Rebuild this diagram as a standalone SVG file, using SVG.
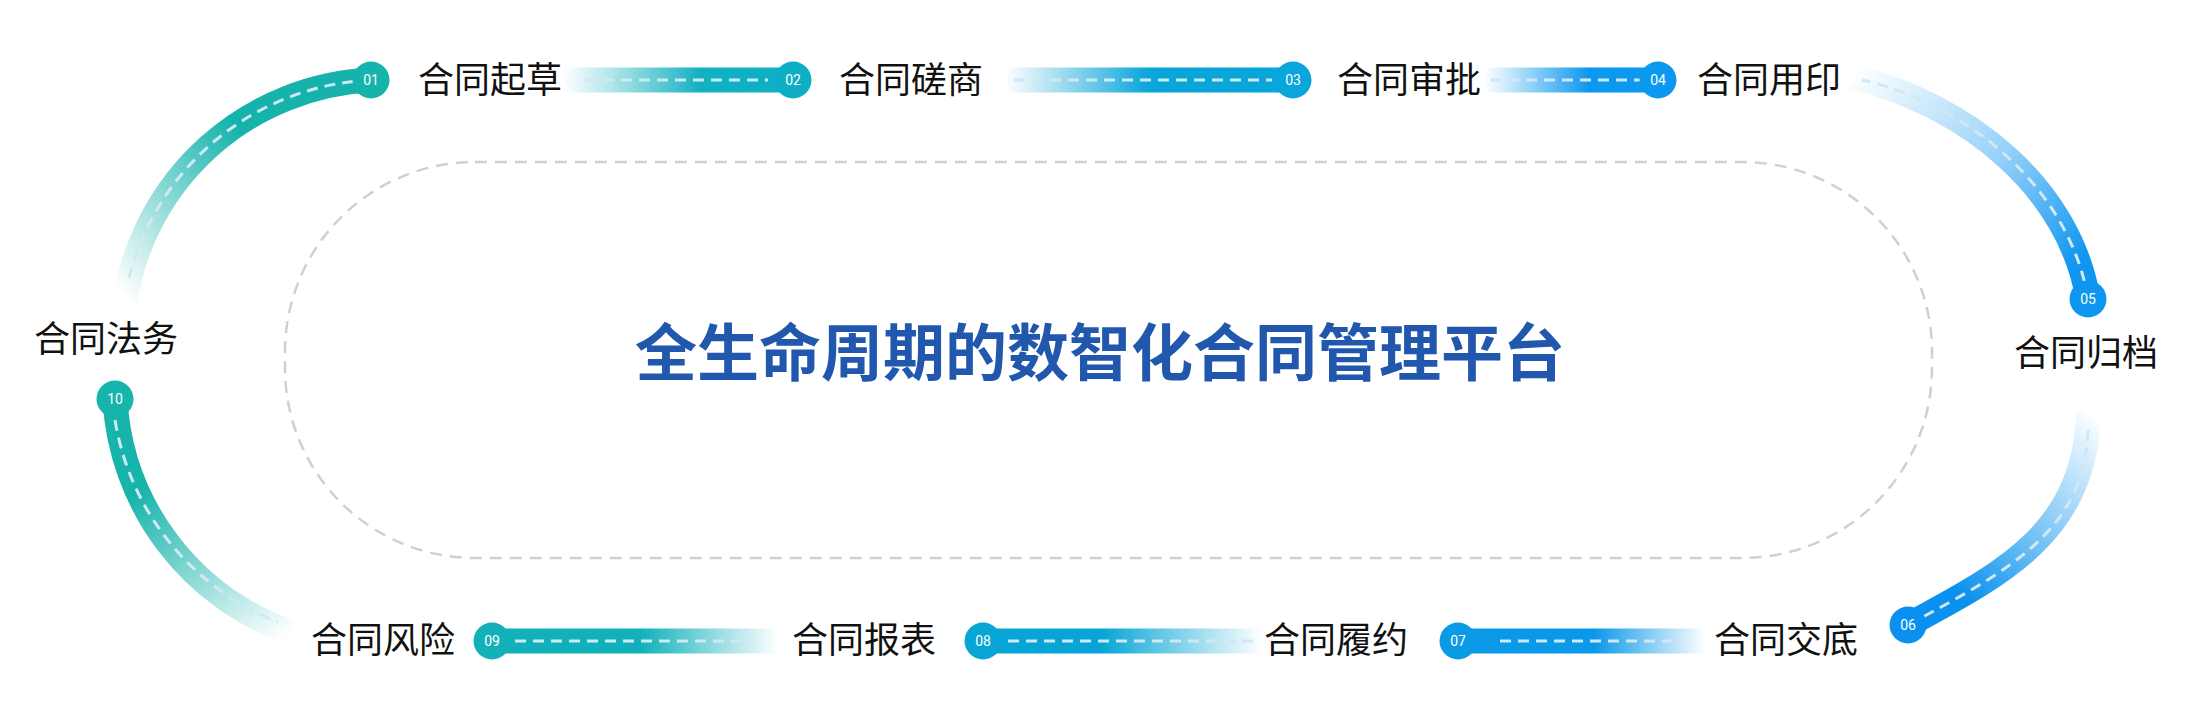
<svg xmlns="http://www.w3.org/2000/svg" width="2200" height="710" viewBox="0 0 2200 710">
<style>
.lbl{font-family:"Noto Sans CJK SC","Noto Sans",sans-serif;font-size:36px;fill:#111;text-anchor:middle}
.num{font-family:Roboto,"Liberation Sans",sans-serif;font-size:14px;fill:#fff;text-anchor:middle}
.title{font-family:"Noto Sans CJK SC","Noto Sans",sans-serif;font-size:62px;font-weight:bold;fill:#2158ae;text-anchor:middle}
.track{fill:none;stroke-width:25}
.dash{fill:none;stroke:#cfe8f3;stroke-width:3;stroke-dasharray:11 7}
.frame{fill:none;stroke:#d0d0d0;stroke-width:2.5;stroke-dasharray:12 8}
</style>
<defs>
<linearGradient id="gA" gradientUnits="userSpaceOnUse" x1="128" y1="300" x2="371" y2="80"><stop offset="0" stop-color="#16b3ad" stop-opacity="0"/><stop offset="0.6" stop-color="#16b3ad" stop-opacity="1"/><stop offset="1" stop-color="#16b3ad"/></linearGradient>
<linearGradient id="gB" gradientUnits="userSpaceOnUse" x1="562" y1="0" x2="793" y2="0"><stop offset="0" stop-color="#2ab9c0" stop-opacity="0"/><stop offset="0.6" stop-color="#12b1c2" stop-opacity="1"/><stop offset="1" stop-color="#0eaec4"/></linearGradient>
<linearGradient id="gC" gradientUnits="userSpaceOnUse" x1="1005" y1="0" x2="1293" y2="0"><stop offset="0" stop-color="#08a6da" stop-opacity="0"/><stop offset="0.5" stop-color="#08a6da" stop-opacity="1"/><stop offset="1" stop-color="#08a6da"/></linearGradient>
<linearGradient id="gD" gradientUnits="userSpaceOnUse" x1="1485" y1="0" x2="1658" y2="0"><stop offset="0" stop-color="#0b98ef" stop-opacity="0"/><stop offset="0.6" stop-color="#0b98ef" stop-opacity="1"/><stop offset="1" stop-color="#0b98ef"/></linearGradient>
<linearGradient id="gE" gradientUnits="userSpaceOnUse" x1="1850" y1="76" x2="2088" y2="299"><stop offset="0" stop-color="#1a9bf0" stop-opacity="0"/><stop offset="0.5" stop-color="#1a9bf0" stop-opacity="0.45"/><stop offset="0.9" stop-color="#1096f0" stop-opacity="1"/></linearGradient>
<linearGradient id="gF" gradientUnits="userSpaceOnUse" x1="2089" y1="410" x2="1908" y2="625"><stop offset="0" stop-color="#0b93ee" stop-opacity="0"/><stop offset="0.5" stop-color="#0b93ee" stop-opacity="0.6"/><stop offset="0.8" stop-color="#0a90ee" stop-opacity="1"/></linearGradient>
<linearGradient id="gG" gradientUnits="userSpaceOnUse" x1="1458" y1="0" x2="1705" y2="0"><stop offset="0" stop-color="#0a98e8"/><stop offset="0.55" stop-color="#0a98e8" stop-opacity="1"/><stop offset="1" stop-color="#0a98e8" stop-opacity="0"/></linearGradient>
<linearGradient id="gH" gradientUnits="userSpaceOnUse" x1="983" y1="0" x2="1262" y2="0"><stop offset="0" stop-color="#06a5d5"/><stop offset="0.42" stop-color="#06a5d5" stop-opacity="1"/><stop offset="1" stop-color="#06a5d5" stop-opacity="0"/></linearGradient>
<linearGradient id="gI" gradientUnits="userSpaceOnUse" x1="492" y1="0" x2="778" y2="0"><stop offset="0" stop-color="#11b1bb"/><stop offset="0.52" stop-color="#11b1bb" stop-opacity="1"/><stop offset="1" stop-color="#11b1bb" stop-opacity="0"/></linearGradient>
<linearGradient id="gJ" gradientUnits="userSpaceOnUse" x1="115" y1="399" x2="290" y2="632"><stop offset="0" stop-color="#17b4ab"/><stop offset="0.3" stop-color="#17b4ab" stop-opacity="1"/><stop offset="1" stop-color="#17b4ab" stop-opacity="0"/></linearGradient>
</defs>
<rect width="2200" height="710" fill="#fff"/>
<rect class="frame" x="285" y="162" width="1647" height="396" rx="190" ry="190"/>
<text class="title" x="1100" y="376">全生命周期的数智化合同管理平台</text>
<g id="connectors">
<path class="track" stroke="url(#gA)" d="M125 300 A262 262 0 0 1 371 80"/>
<path class="dash" d="M371 80 A262 262 0 0 0 128 282"/>
<path class="track" stroke="url(#gB)" d="M562 80 H793"/>
<path class="dash" d="M585 80 H768"/>
<path class="track" stroke="url(#gC)" d="M1005 80 H1293"/>
<path class="dash" d="M1014 80 H1272"/>
<path class="track" stroke="url(#gD)" d="M1485 80 H1658"/>
<path class="dash" d="M1490 80 H1640"/>
<path class="track" stroke="url(#gE)" d="M2088 299 C2070 190 1970 105 1850 76"/>
<path class="dash" d="M2088 299 C2070 190 1970 105 1862 80"/>
<path class="track" stroke="url(#gF)" d="M1908 625 C2010 570 2085 530 2089 410"/>
<path class="dash" d="M1908 625 C2010 570 2085 530 2088 430"/>
<path class="track" stroke="url(#gG)" d="M1458 641 H1705"/>
<path class="dash" d="M1500 641 H1685"/>
<path class="track" stroke="url(#gH)" d="M983 641 H1262"/>
<path class="dash" d="M1008 641 H1256"/>
<path class="track" stroke="url(#gI)" d="M492 641 H778"/>
<path class="dash" d="M515 641 H752"/>
<path class="track" stroke="url(#gJ)" d="M115 399 A262 262 0 0 0 290 632"/>
<path class="dash" d="M115 420 A262 262 0 0 0 278 622"/>
</g>
<g id="n01"><circle cx="371" cy="80" r="18.5" fill="#16b3ad"/><text class="num" x="371" y="85">01</text><text class="lbl" x="490" y="93">合同起草</text></g>
<g id="n02"><circle cx="793" cy="80" r="18.5" fill="#0eaec4"/><text class="num" x="793" y="85">02</text><text class="lbl" x="911" y="93">合同磋商</text></g>
<g id="n03"><circle cx="1293" cy="80" r="18.5" fill="#08a6da"/><text class="num" x="1293" y="85">03</text><text class="lbl" x="1409" y="93">合同审批</text></g>
<g id="n04"><circle cx="1658" cy="80" r="18.5" fill="#0b98ef"/><text class="num" x="1658" y="85">04</text><text class="lbl" x="1769" y="93">合同用印</text></g>
<g id="n05"><circle cx="2088" cy="299" r="18.5" fill="#0c96f0"/><text class="num" x="2088" y="304">05</text><text class="lbl" x="2086" y="366">合同归档</text></g>
<g id="n06"><circle cx="1908" cy="625" r="18.5" fill="#0a90ee"/><text class="num" x="1908" y="630">06</text><text class="lbl" x="1786" y="653">合同交底</text></g>
<g id="n07"><circle cx="1458" cy="641" r="18.5" fill="#0b9ae6"/><text class="num" x="1458" y="646">07</text><text class="lbl" x="1336" y="653">合同履约</text></g>
<g id="n08"><circle cx="983" cy="641" r="18.5" fill="#07a5d4"/><text class="num" x="983" y="646">08</text><text class="lbl" x="864" y="653">合同报表</text></g>
<g id="n09"><circle cx="492" cy="641" r="18.5" fill="#12b1b9"/><text class="num" x="492" y="646">09</text><text class="lbl" x="383" y="653">合同风险</text></g>
<g id="n10"><circle cx="115" cy="399" r="18.5" fill="#17b4ab"/><text class="num" x="115" y="404">10</text><text class="lbl" x="106" y="352">合同法务</text></g>
</svg>
